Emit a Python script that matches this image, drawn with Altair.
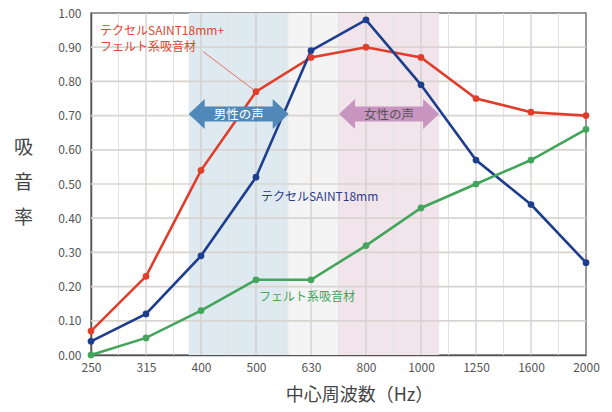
import altair as alt
import pandas as pd

FONT = "Noto Sans CJK JP"

freq_labels = ["250", "315", "400", "500", "630", "800", "1000", "1250", "1600", "2000"]
combo = [0.07, 0.23, 0.54, 0.77, 0.87, 0.90, 0.87, 0.75, 0.71, 0.70]
saint = [0.04, 0.12, 0.29, 0.52, 0.89, 0.98, 0.79, 0.57, 0.44, 0.27]
felt = [0.00, 0.05, 0.13, 0.22, 0.22, 0.32, 0.43, 0.50, 0.57, 0.66]

series_names = ["テクセルSAINT18mm+フェルト系吸音材", "テクセルSAINT18mm", "フェルト系吸音材"]
series_colors = ["#e13d2b", "#1d3e8e", "#43a55b"]

band_start = [1.776, 3.595, 4.51]
band_end = [3.595, 4.51, 6.33]
band_color = ["#dfe9f0", "#f4f4f4", "#f1e5eb"]

x_grid_vals = [i / 2 for i in range(19)]
y_grid_vals = [round(i / 10, 1) for i in range(11)]

rows = []
for name, vals in zip(series_names, [combo, saint, felt]):
    for i, v in enumerate(vals):
        rows.append({"idx": i, "value": v, "series": name})
df = pd.DataFrame(rows)

bands = pd.DataFrame({"x": band_start, "x2": band_end, "c": band_color})

W, H = 495, 342
x_scale = alt.Scale(domain=[0, 9], nice=False, zero=False)
y_scale = alt.Scale(domain=[0, 1], nice=False, zero=False)

label_expr = "datum.value % 1 == 0 ? " + str(freq_labels) + "[datum.value] : ''"

x_axis = alt.Axis(values=x_grid_vals, labelExpr=label_expr, labelFlush=False, labelOverlap=False,
                  grid=False, ticks=False, domainColor="#555", domainWidth=1.5,
                  labelFont=FONT, labelFontSize=12, labelColor="#555", labelPadding=7,
                  title="中心周波数（Hz）", titleFont=FONT, titleFontSize=18,
                  titleFontWeight="normal", titleColor="#444",
                  titleX=268, titleY=40, titleAlign="center", titleBaseline="middle")
y_axis = alt.Axis(values=y_grid_vals, format=".2f", labelFlush=False, labelOverlap=False,
                  grid=False, ticks=False, domainColor="#555", domainWidth=1.5,
                  labelFont=FONT, labelFontSize=12, labelColor="#555", labelPadding=10,
                  title=["吸", "音", "率"], titleAngle=0, titleFont=FONT,
                  titleFontSize=19, titleFontWeight="normal", titleColor="#444",
                  titleLineHeight=35, titleX=-68, titleY=134,
                  titleAlign="center", titleBaseline="middle")


def X(field):
    return alt.X(field, type="quantitative", scale=x_scale, axis=x_axis)


def Y(field):
    return alt.Y(field, type="quantitative", scale=y_scale, axis=y_axis)


band_layer = alt.Chart(bands).mark_rect().encode(
    x=X("x"), x2="x2",
    y=alt.value(0), y2=alt.value(H),
    color=alt.Color("c:N", scale=None),
)

inner_x = x_grid_vals[1:-1]
inner_y = y_grid_vals[1:-1]
grid_df = pd.DataFrame({
    "gx": inner_x + [0.0] * len(inner_y),
    "gx2": inner_x + [9.0] * len(inner_y),
    "gy": [0.0] * len(inner_x) + inner_y,
    "gy2": [1.0] * len(inner_x) + inner_y,
    "gc": ["#cfcbca" if v % 1 == 0 else "#e4e2e1" for v in inner_x] + ["#d9d4d0"] * len(inner_y),
    "gw": [1.2 if v % 1 == 0 else 1.0 for v in inner_x] + [1.7] * len(inner_y),
})
grid = alt.Chart(grid_df).mark_rule().encode(
    x=X("gx"), x2="gx2", y=Y("gy"), y2="gy2",
    color=alt.Color("gc:N", scale=None),
    strokeWidth=alt.StrokeWidth("gw:Q", scale=None),
)

color_enc = alt.Color("series:N", scale=alt.Scale(domain=series_names, range=series_colors), legend=None)

lines = alt.Chart(df).mark_line(strokeWidth=2.6).encode(
    x=X("idx"), y=Y("value"), color=color_enc, detail="series:N",
)
points = alt.Chart(df).mark_point(filled=True, size=45, opacity=1).encode(
    x=X("idx"), y=Y("value"), color=color_enc,
)

leader = alt.Chart(pd.DataFrame({"lx": [2.04], "ly": [0.887], "lx2": [3.0], "ly2": [0.77]})).mark_rule(
    color="#e13d2b", strokeWidth=0.7
).encode(x=X("lx"), y=Y("ly"), x2="lx2", y2="ly2")

arrow_path = ("M-1,0 L-0.68,-0.3 L-0.68,-0.15 L0.68,-0.15 L0.68,-0.3 L1,0 "
              "L0.68,0.3 L0.68,0.15 L-0.68,0.15 L-0.68,0.3 Z")
arrows_df = pd.DataFrame({
    "ax": [(band_start[0] + band_end[0]) / 2, (band_start[2] + band_end[2]) / 2],
    "ay": [0.705, 0.705],
    "label": ["男性の声", "女性の声"],
    "fill": ["#5088b9", "#c895c1"],
    "tc": ["#ffffff", "#555555"],
})
arrows = alt.Chart(arrows_df).mark_point(shape=arrow_path, filled=True, size=100 * 100, opacity=1,
                                         strokeWidth=0).encode(
    x=X("ax"), y=Y("ay"), color=alt.Color("fill:N", scale=None),
)
arrow_text = alt.Chart(arrows_df).mark_text(font=FONT, fontSize=12.5, baseline="middle", dy=1).encode(
    x=X("ax"), y=Y("ay"), text="label:N", color=alt.Color("tc:N", scale=None),
)

labels_df = pd.DataFrame({
    "tx": [0.164, 0.164, 3.09, 3.055],
    "ty": [0.948, 0.902, 0.463, 0.171],
    "text": ["テクセルSAINT18mm+", "フェルト系吸音材", "テクセルSAINT18mm", "フェルト系吸音材"],
    "c": ["#e2452f", "#e2452f", "#2b3c8e", "#43a55b"],
})
labels = alt.Chart(labels_df).mark_text(font=FONT, fontSize=12, align="left", baseline="middle").encode(
    x=X("tx"), y=Y("ty"), text="text:N", color=alt.Color("c:N", scale=None),
)

chart = alt.layer(band_layer, grid, lines, points, leader, arrows, arrow_text, labels).properties(
    width=W, height=H,
    autosize=alt.AutoSizeParams(type="none"),
    padding={"left": 83, "top": 5, "right": 18, "bottom": 49},
    background="#ffffff",
).configure_view(stroke="#777", strokeWidth=1.5)

chart.save("out.html", embed_options={"renderer": "svg", "actions": False})
